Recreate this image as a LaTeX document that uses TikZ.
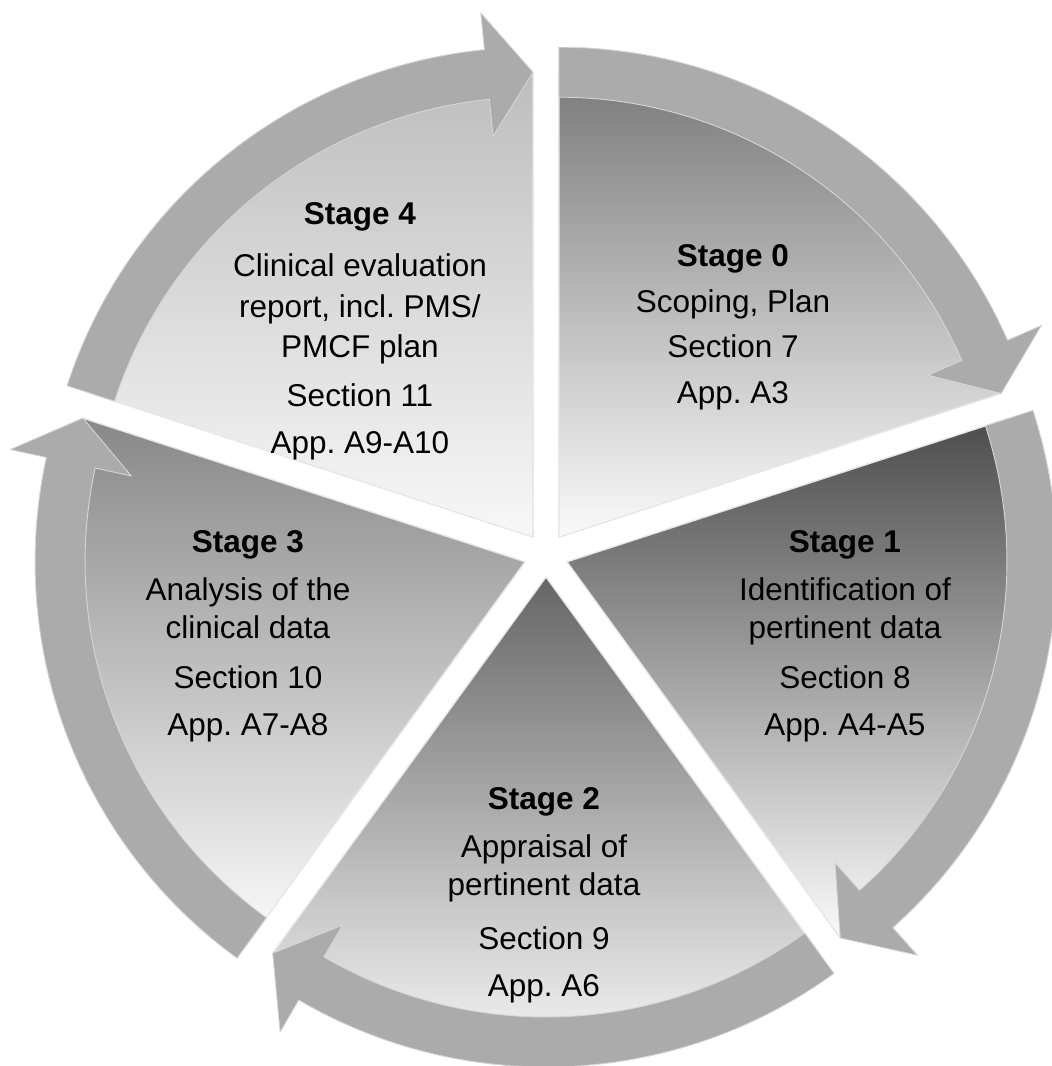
\documentclass[tikz,border=0pt]{standalone}
\usepackage{fontspec}
\setmainfont{Liberation Sans}
\frenchspacing
\definecolor{bandgray}{HTML}{ABABAB}
\definecolor{bandedge}{HTML}{D6D6D6}
\definecolor{segedge}{HTML}{E4E8EC}
\begin{document}
\begin{tikzpicture}[x=1pt,y=1pt,
  band/.style={fill=bandgray, draw=bandedge, line width=0.9pt, line join=round},
  seg/.style={draw=segedge, line width=1.4pt, line join=round},
  lbl/.style={font=\fontsize{31.5}{38}\selectfont, anchor=base, inner sep=0pt},
  ttl/.style={lbl, font=\fontsize{31.5}{38}\selectfont\bfseries}]
\useasboundingbox (-546,-511) rectangle (506,555);
% segments: bisector b, start s, end e
\foreach \b/\s/\e/\tc/\bc in {54/90/18/7A7A7A/FAFAFA, -18/18/-54/4C4C4C/FAFAFA, -90/-54/-126/666666/FAFAFA, -162/-126/-198/888888/FAFAFA, -234/-198/-270/BDBDBD/F8F8F8}{
  \begin{scope}[shift={(\b:22pt)}]
    \definecolor{tcol}{HTML}{\tc}\definecolor{bcol}{HTML}{\bc}
    \shade[top color=tcol, bottom color=bcol] (0pt,0pt) -- (\s:465pt) arc[start angle=\s, end angle=\e, radius=465pt] -- cycle;
    \draw[seg] (\s:465pt) -- (0pt,0pt) -- (\e:465pt);
    \pgfmathsetmacro{\h}{\e+5.7}
    \draw[band] (\s:440pt) arc[start angle=\s, end angle=\h, radius=440pt] -- (\h:403pt) -- (\e:465pt) -- (\h:527pt) -- (\h:490pt) arc[start angle=\h, end angle=\s, radius=490pt] -- cycle;
  \end{scope}
}
% Stage 0
\node[ttl] (s0a) at (187,288) {Stage 0};
\node[lbl] (s0b) at (187,242) {Scoping, Plan};
\node[lbl] (s0c) at (187,197) {Section 7};
\node[lbl] (s0d) at (187,152) {App. A3};
% Stage 1
\node[ttl] (s1a) at (299,3) {Stage 1};
\node[lbl] (s1b) at (299,-45) {Identification of};
\node[lbl] (s1c) at (299,-83) {pertinent data};
\node[lbl] (s1d) at (299,-133) {Section 8};
\node[lbl] (s1e) at (299,-180) {App. A4-A5};
% Stage 2
\node[ttl] (s2a) at (-2,-254) {Stage 2};
\node[lbl] (s2b) at (-2,-302) {Appraisal of};
\node[lbl] (s2c) at (-2,-340) {pertinent data};
\node[lbl] (s2d) at (-2,-394) {Section 9};
\node[lbl] (s2e) at (-2,-441) {App. A6};
% Stage 3
\node[ttl] (s3a) at (-298,3) {Stage 3};
\node[lbl] (s3b) at (-298,-45) {Analysis of the};
\node[lbl] (s3c) at (-298,-83) {clinical data};
\node[lbl] (s3d) at (-298,-133) {Section 10};
\node[lbl] (s3e) at (-298,-180) {App. A7-A8};
% Stage 4
\node[ttl] (s4a) at (-186,330) {Stage 4};
\node[lbl] (s4b) at (-186,278) {Clinical evaluation};
\node[lbl] (s4c) at (-186,237) {report, incl. PMS/};
\node[lbl] (s4d) at (-186,197) {PMCF plan};
\node[lbl] (s4e) at (-186,149) {Section 11};
\node[lbl] (s4f) at (-186,102) {App. A9-A10};
\end{tikzpicture}
\end{document}
